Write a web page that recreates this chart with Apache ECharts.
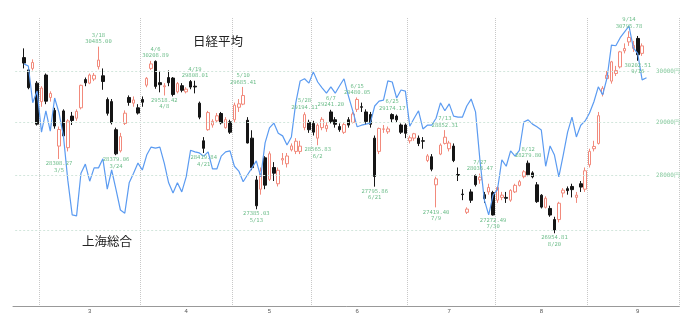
<!DOCTYPE html>
<html>
<head>
<meta charset="utf-8">
<title>日経平均・上海総合</title>
<script src="https://cdn.jsdelivr.net/npm/echarts@6/dist/echarts.min.js"></script>
<style>
html,body{margin:0;padding:0;background:#fff;}
#chart{width:688px;height:321px;}
</style>
</head>
<body>
<div id="chart"></div>
<script>
// 取引日 (2021)
const days = [
  '2/22','2/24','2/25','2/26',
  '3/1','3/2','3/3','3/4','3/5','3/8','3/9','3/10','3/11','3/12','3/15','3/16','3/17','3/18','3/19','3/22','3/23','3/24','3/25','3/26','3/29','3/30','3/31',
  '4/1','4/2','4/5','4/6','4/7','4/8','4/9','4/12','4/13','4/14','4/15','4/16','4/19','4/20','4/21','4/22','4/23','4/26','4/27','4/28','4/30',
  '5/6','5/7','5/10','5/11','5/12','5/13','5/14','5/17','5/18','5/19','5/20','5/21','5/24','5/25','5/26','5/27','5/28','5/31',
  '6/1','6/2','6/3','6/4','6/7','6/8','6/9','6/10','6/11','6/14','6/15','6/16','6/17','6/18','6/21','6/22','6/23','6/24','6/25','6/28','6/29','6/30',
  '7/1','7/2','7/5','7/6','7/7','7/8','7/9','7/12','7/13','7/14','7/15','7/16','7/19','7/20','7/21','7/26','7/27','7/28','7/29','7/30',
  '8/2','8/3','8/4','8/5','8/6','8/10','8/11','8/12','8/13','8/16','8/17','8/18','8/19','8/20','8/23','8/24','8/25','8/26','8/27','8/30','8/31',
  '9/1','9/2','9/3','9/6','9/7','9/8','9/9','9/10','9/13','9/14','9/15','9/16','9/17'
];
const headDays = ['2/18','2/19'];
const tailDays = ['9/21','9/22','9/24','9/27','9/28','9/29','9/30','10/1'];

// 日経平均 四本値
const opens = [
  30265,30020,30050,29760,
  29400,29920,29480,29230,28550,29220,28520,29120,29080,29280,29830,29760,29840,30085,29905,29440,29400,28860,28460,28980,29480,29370,29280,
  29440,29720,30050,30190,29770,29690,29870,29860,29590,29710,29590,29790,29700,29370,28650,28860,28950,29030,29170,28900,29010,
  29050,29290,29350,29040,28700,27920,27750,28330,27930,28150,27850,28290,28220,28480,28450,28450,28900,29000,
  28980,28700,28900,28880,29200,29050,28920,28810,29050,29000,29250,29300,29200,29150,28700,28450,28870,28820,29150,29120,28950,28950,
  28650,28700,28700,28650,28280,28350,27830,28400,28600,28500,28550,28020,27660,27330,27700,28000,27920,27650,27700,27690,
  27550,27600,27600,27550,27700,27820,27980,28230,28050,27830,27640,27420,27400,27200,27200,27680,27760,27800,27600,27850,27750,
  28200,28500,28600,29550,29850,29800,29950,30080,30400,30580,30450,30650,30350
];
const closes = [
  30156,29671,30168,28966,
  29664,29408,29559,28930,28864,28743,29028,29036,29211,29717,29766,29921,29914,30216,29792,29174,28995,28405,28729,29176,29384,29432,29178,
  29388,29854,30140,29696,29730,29708,29768,29538,29751,29620,29642,29683,29685,29100,28508,29188,29020,29126,28991,29053,28812,
  29331,29357,29518,28608,28147,27448,28084,27824,28406,28044,28098,28317,28364,28553,28642,28549,29149,28860,
  28814,28946,29058,28941,29019,28963,28860,28958,28948,29161,29441,29291,29018,28964,27983,28884,28874,28875,29066,29048,28812,28792,
  28707,28783,28598,28643,28366,28118,27940,28569,28718,28608,28279,28003,27652,27388,27548,27833,27970,27581,27782,27283,
  27781,27641,27584,27728,27820,27888,28070,28015,27977,27523,27424,27585,27281,27013,27494,27732,27724,27742,27641,27789,28089,
  28451,28543,29128,29659,29916,30181,30008,30381,30447,30670,30511,30323,30500
];
const lows = [
  30050,29640,30010,28940,
  29300,29350,29400,28880,28308.27,28720,28450,28950,29030,29250,29700,29740,29800,30030,29630,29130,28960,28379.06,28430,28950,29320,29300,29150,
  29300,29680,30020,29650,29580,29518.42,29700,29500,29560,29580,29560,29640,29560,29060,28419.84,28840,28900,28990,28960,28880,28780,
  29000,29200,29330,28600,28100,27385.03,27650,27750,27900,27900,27800,28200,28150,28450,28400,28400,28850,28800,
  28750,28565.83,28850,28820,28980,28900,28820,28780,28900,28980,29200,29200,28950,28900,27795.86,28400,28800,28780,29000,28990,28780,28700,
  28600,28650,28550,28500,28250,28080,27419.40,28380,28580,28450,28250,27900,27550,27300,27500,27800,27850,27500,27650,27272.49,
  27500,27550,27500,27520,27680,27800,27950,27990,27950,27500,27400,27400,27250,26954.81,27150,27600,27650,27600,27500,27700,27700,
  28150,28450,28580,29500,29800,29750,29900,30050,30350,30500,30380,30202.51,30300
];
const highs = [
  30450,30050,30230,29800,
  29700,29950,29600,29280,28920,29250,29060,29200,29250,29730,29870,29950,29960,30485.00,30050,29480,29450,28900,28800,29230,29520,29500,29350,
  29500,29880,30200,30208.89,30000,29760,30010,29880,29780,29760,29680,29820,29808.01,29400,28720,29220,29060,29180,29200,29100,29050,
  29380,29450,29685.41,29100,28850,28000,28150,28360,28450,28250,28150,28420,28420,28600,28700,28650,29194.11,29050,
  29030,28980,29100,29000,29241.20,29100,28980,29000,29100,29200,29480.05,29380,29250,29200,28750,28900,28950,28920,29174.17,29150,28980,28980,
  28750,28800,28750,28720,28400,28400,27980,28600,28852.31,28650,28600,28150,27750,27420,27750,28020,28036.47,27700,27850,27720,
  27800,27700,27700,27750,27850,27920,28100,28279.80,28080,27880,27660,27620,27450,27250,27520,27770,27800,27850,27700,27900,28150,
  28500,28650,29200,29700,30000,30200,30100,30400,30550,30795.78,30600,30700,30550
];

// 上海総合 (2/22 から, 日経より1点多い)
const shanghai = [
  3642,3638,3569,3591,
  3514,3554,3516,3578,3550,3507,3424,3359,3357,3437,3454,3422,3447,3447,3464,3407,3443,3406,3368,3362,3419,3437,3456,
  3443,3471,3486,3484,3486,3456,3419,3400,3419,3402,3430,3480,3477,3475,3469,3477,3445,3445,3469,3477,3479,
  3450,3441,3421,3434,3447,3460,3430,3494,3522,3531,3512,3507,3490,3505,3569,3610,3614,3606,
  3627,3608,3597,3587,3599,3587,3601,3614,3582,3554,3524,3527,3529,3531,3563,3572,3574,3610,3608,3578,3593,3591,
  3525,3540,3554,3520,3527,3527,3540,3569,3554,3567,3544,3542,3542,3563,3576,3552,3462,3387,3359,3396,
  3406,3462,3450,3479,3469,3480,3533,3537,3529,3524,3518,3450,3488,3471,3430,3471,3514,3542,3505,3527,3535,
  3550,3571,3599,3584,3616,3677,3676,3691,3702,3713,3672,3661,3612,
  3616
];

// 高値・安値ラベル
const highDays = ['3/18','4/6','4/19','5/10','5/28','6/7','6/15','6/25','7/13','7/27','8/12','9/14'];
const highVals = [30485.00,30208.89,29808.01,29685.41,29194.11,29241.20,29480.05,29174.17,28852.31,28036.47,28279.80,30795.78];
const lowDays = ['3/5','3/24','4/8','4/21','5/13','6/2','6/21','7/9','7/30','8/20','9/16'];
const lowVals = [28308.27,28379.06,29518.42,28419.84,27385.03,28565.83,27795.86,27419.40,27272.49,26954.81,30202.51];

const yenLines = [30000, 29000, 28000, 27000];
const monthLabelDays = ['3/16','4/15','5/18','6/15','7/14','8/17','9/16'];

const cats = headDays.concat(days, tailDays);
const blank = n => Array.from({length: n}, () => '-');

let candle = days.map((d, i) => [opens[i], closes[i], lows[i], highs[i]]);
let candleData = blank(headDays.length).concat(candle, blank(tailDays.length));
let shData = blank(headDays.length).concat(shanghai);
shData = shData.concat(blank(cats.length - shData.length));

function toDate(s) {
  let p = s.split('/');
  return new Date(2021, +p[0] - 1, +p[1]);
}
// 月初
function monthStart(i) {
  if (i == 0) return false;
  let a = toDate(cats[i - 1]), b = toDate(cats[i]);
  return a.getMonth() != b.getMonth() && b.getMonth() <= 8;
}
// 週初
function weekStart(i) {
  if (i == 0) return false;
  let a = toDate(cats[i - 1]), b = toDate(cats[i]);
  return b.getDay() < a.getDay() || (b - a) >= 7 * 864e5;
}

const labelFont = 'DejaVu Sans Mono';
const green = '#6dbd8a';

let markData = highDays.map((d, i) => ({
  name: d,
  coord: [d, highVals[i]],
  label: {position: 'top', distance: 1, formatter: d + '\n' + highVals[i].toFixed(2)}
})).concat(lowDays.map((d, i) => ({
  name: d,
  coord: [d, lowVals[i]],
  label: {position: 'bottom', distance: 1, formatter: lowVals[i].toFixed(2) + '\n' + d}
})));

let gridLines = yenLines.map(v => [
  {coord: [cats[0], v]},
  {coord: ['9/22', v], label: {show: v >= 28000, formatter: v + '円'}}
]);

let titleStyle = {fontSize: 12.5, fontWeight: 'normal', color: '#222', fontFamily: 'Noto Sans CJK JP'};

var myChart = echarts.init(document.getElementById('chart'));
var option = {
  animation: false,
  backgroundColor: '#fff',
  title: [
    {text: '日経平均', left: 193, top: 35, padding: 0, textStyle: titleStyle},
    {text: '上海総合', left: 82, top: 235, padding: 0, textStyle: titleStyle}
  ],
  grid: {left: 13, right: 8.6, top: 18, bottom: 15, containLabel: false, outerBoundsMode: 'none'},
  xAxis: [{
    type: 'category',
    data: cats,
    boundaryGap: true,
    axisLine: {lineStyle: {color: '#999', width: 1}},
    axisTick: {interval: i => monthStart(i), length: 6, lineStyle: {color: '#aaa'}},
    axisLabel: {
      interval: (i, v) => monthLabelDays.indexOf(v) >= 0,
      formatter: v => v.split('/')[0],
      fontSize: 6, color: '#555', margin: 2
    },
    splitLine: {show: true, interval: i => monthStart(i), lineStyle: {type: 'dotted', color: '#c8c8c8'}}
  }, {
    type: 'category',
    data: cats,
    boundaryGap: true,
    axisLine: {show: false},
    axisLabel: {show: false},
    splitLine: {show: false},
    axisTick: {interval: i => weekStart(i), length: 2, lineStyle: {color: '#f4a395'}}
  }],
  yAxis: [
    {type: 'log', logBase: 10, min: 25693, max: 31066, show: false},
    {type: 'value', min: 3188, max: 3728, show: false}
  ],
  series: [{
    name: '日経平均',
    type: 'candlestick',
    data: candleData,
    barWidth: 3,
    itemStyle: {
      color: '#fff',
      color0: '#151515',
      borderColor: '#f28a7c',
      borderColor0: '#151515',
      borderWidth: 1
    },
    markLine: {
      symbol: ['none', 'none'],
      silent: true,
      animation: false,
      lineStyle: {color: '#d2e6dc', type: [2, 2], width: 1},
      label: {position: 'end', distance: 5, color: '#86c99e', fontSize: 6, fontFamily: labelFont},
      data: gridLines
    },
    markPoint: {
      symbol: 'circle',
      symbolSize: 1,
      silent: true,
      animation: false,
      itemStyle: {color: 'rgba(0,0,0,0)'},
      label: {fontSize: 5.5, lineHeight: 6.5, fontFamily: labelFont, color: green},
      data: markData
    }
  }, {
    name: '上海総合',
    type: 'line',
    yAxisIndex: 1,
    data: shData,
    symbol: 'none',
    showSymbol: false,
    z: 3,
    lineStyle: {color: '#5b9bf1', width: 1.2}
  }]
};
myChart.setOption(option);
</script>
</body>
</html>
